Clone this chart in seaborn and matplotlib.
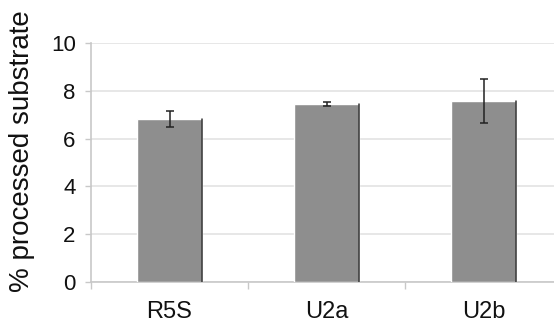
import matplotlib
matplotlib.use("Agg")
import matplotlib.pyplot as plt
import seaborn as sns
import pandas as pd

categories = ["R5S", "U2a", "U2b"]
values = [6.82, 7.45, 7.57]
errors = [0.32, 0.08, 0.92]
yticks = [0, 2, 4, 6, 8, 10]

sns.set_theme(style="white")
plt.rcParams["font.family"] = ["Liberation Sans", "DejaVu Sans"]

df = pd.DataFrame({"sample": categories, "value": values})

fig = plt.figure(figsize=(5.54, 3.29), dpi=100)
ax = fig.add_axes([91 / 554, 47 / 329, 471 / 554, 239 / 329])

sns.barplot(data=df, x="sample", y="value", color="#8e8e8e", saturation=1,
            width=0.41, ax=ax, errorbar=None, zorder=3)

# darker right edge on each bar
for p in ax.patches:
    x1 = p.get_x() + p.get_width()
    ax.plot([x1, x1], [0, p.get_height()], color="#333333", lw=1.1, zorder=4)

ax.errorbar(x=list(range(len(categories))), y=values, yerr=errors, fmt="none",
            ecolor="#222222", elinewidth=1.1, capsize=3, capthick=1.1, zorder=5)

ax.set_xlim(-0.5, 2.5)
ax.set_ylim(0, 10)
ax.set_yticks(yticks)
ax.set_yticklabels([str(t) for t in yticks])
ax.yaxis.grid(True, color="#e3e3e3", lw=1.2, zorder=0)
ax.set_axisbelow(True)

for s in ["top", "right"]:
    ax.spines[s].set_visible(False)
for s in ["left", "bottom"]:
    ax.spines[s].set_visible(True)
    ax.spines[s].set_color("#c8c8c8")
    ax.spines[s].set_linewidth(1.2)

ax.set_xticks([-0.5, 0.5, 1.5, 2.5], minor=True)
ax.tick_params(axis="x", which="minor", length=5, color="#c8c8c8", width=1,
               direction="out", bottom=True)
ax.tick_params(axis="x", which="major", length=0, labelsize=17, pad=14,
               labelcolor="#111111")
ax.tick_params(axis="y", length=4, color="#c8c8c8", width=1, direction="out",
               labelsize=16, pad=7, labelcolor="#111111", left=True)

ax.set_xlabel("")
ax.set_ylabel("% processed substrate", fontsize=20, color="#111111", va="center")
ax.yaxis.set_label_coords(-69 / 471, (282 - 151) / 239)

fig.savefig("out.png", dpi=100)
